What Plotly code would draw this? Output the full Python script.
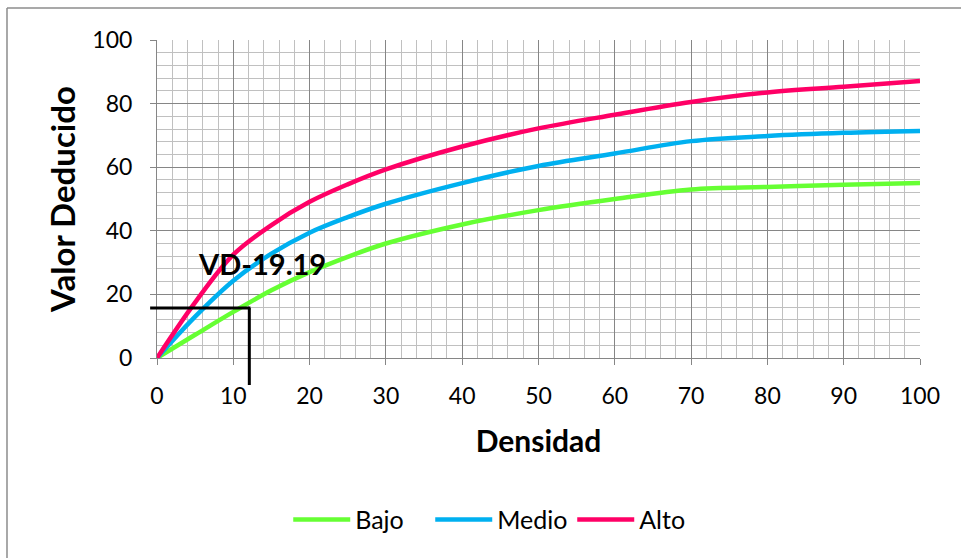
import plotly.graph_objects as go

# Deduct-value curves by severity level
densidad = [0, 5, 10, 15, 20, 25, 30, 40, 50, 60, 70, 80, 90, 100]
bajo = [0, 7.3, 14.5, 21.3, 27, 31.8, 36, 42, 46.5, 50, 53, 53.8, 54.5, 55]
medio = [0, 13, 24.3, 32.8, 39.4, 44.3, 48.5, 55, 60.4, 64.3, 68.2, 69.8, 70.8, 71.4]
alto = [0, 17.5, 32.5, 41.8, 49.1, 54.6, 59.3, 66.5, 72.2, 76.5, 80.5, 83.5, 85.3, 87.1]

series_names = ["Bajo", "Medio", "Alto"]
series_colors = ["#66ff33", "#00b0f0", "#ff0066"]

# Reading marker: density and deduct value picked off the curve
lectura_x = 12.1
lectura_y = 15.7
etiqueta = "VD-19.19"

X_RANGE = [0, 100]
Y_RANGE = [0, 100]

FONT = "Lato, Calibri, sans-serif"
MAJOR = "#868686"
MINOR = "#c0c0c0"

fig = go.Figure()
for name, vals, color in zip(series_names, [bajo, medio, alto], series_colors):
    fig.add_trace(go.Scatter(
        x=densidad, y=vals, name=name, mode="lines",
        line=dict(color=color, width=4.5, shape="spline", smoothing=1.0),
    ))


def xp(v):
    return (v - X_RANGE[0]) / (X_RANGE[1] - X_RANGE[0])


def yp(v):
    return (v - Y_RANGE[0]) / (Y_RANGE[1] - Y_RANGE[0])


shapes = [
    # horizontal guide from the value axis to the reading
    dict(type="line", xref="paper", yref="paper",
         x0=xp(-0.9), x1=xp(lectura_x + 0.15), y0=yp(lectura_y), y1=yp(lectura_y),
         line=dict(color="black", width=3)),
    # vertical guide down past the density axis
    dict(type="line", xref="paper", yref="paper",
         x0=xp(lectura_x), x1=xp(lectura_x), y0=yp(lectura_y), y1=yp(-8.5),
         line=dict(color="black", width=3)),
    # chart frame
    dict(type="line", xref="paper", yref="paper",
         x0=-0.1966, x1=-0.1966, y0=-0.7, y1=1.1006,
         line=dict(color="#8c8c8c", width=1.5)),
    dict(type="line", xref="paper", yref="paper",
         x0=-0.1966, x1=1.2, y0=1.1006, y1=1.1006,
         line=dict(color="#8c8c8c", width=1.5)),
]

fig.update_layout(
    width=961, height=558,
    margin=dict(l=157, r=41, t=40, b=200),
    paper_bgcolor="white", plot_bgcolor="white",
    font=dict(family=FONT, color="black", size=23),
    shapes=shapes,
    annotations=[dict(
        x=13.8, y=29.6, xref="x", yref="y", text="<b>" + etiqueta + "</b>",
        showarrow=False, font=dict(family=FONT, size=29, color="black"),
    )],
    showlegend=True,
    legend=dict(
        orientation="h", x=0.172, y=-0.509, xanchor="left", yanchor="middle",
        font=dict(family=FONT, size=25), itemwidth=57, traceorder="normal",
        entrywidth=70, entrywidthmode="pixels",
        bgcolor="rgba(0,0,0,0)",
    ),
    xaxis=dict(
        range=X_RANGE, dtick=10, tick0=0,
        showgrid=True, gridcolor=MAJOR, gridwidth=1,
        minor=dict(dtick=2, showgrid=True, gridcolor=MINOR, gridwidth=1),
        showline=True, linecolor=MAJOR, linewidth=1,
        ticks="outside", ticklen=6, tickcolor=MAJOR,
        ticklabelstandoff=11,
        zeroline=False,
        title=dict(text="<b>Densidad</b>", font=dict(size=30), standoff=23),
        tickfont=dict(size=23),
    ),
    yaxis=dict(
        range=Y_RANGE, dtick=20, tick0=0,
        showgrid=True, gridcolor=MAJOR, gridwidth=1,
        minor=dict(dtick=4, showgrid=True, gridcolor=MINOR, gridwidth=1),
        showline=True, linecolor=MAJOR, linewidth=1,
        ticks="outside", ticklen=6, tickcolor=MAJOR,
        ticklabelstandoff=13,
        zeroline=False,
        title=dict(text="<b>Valor Deducido</b>", font=dict(size=33), standoff=6),
        tickfont=dict(size=23),
    ),
)

fig.write_html("out.html")
